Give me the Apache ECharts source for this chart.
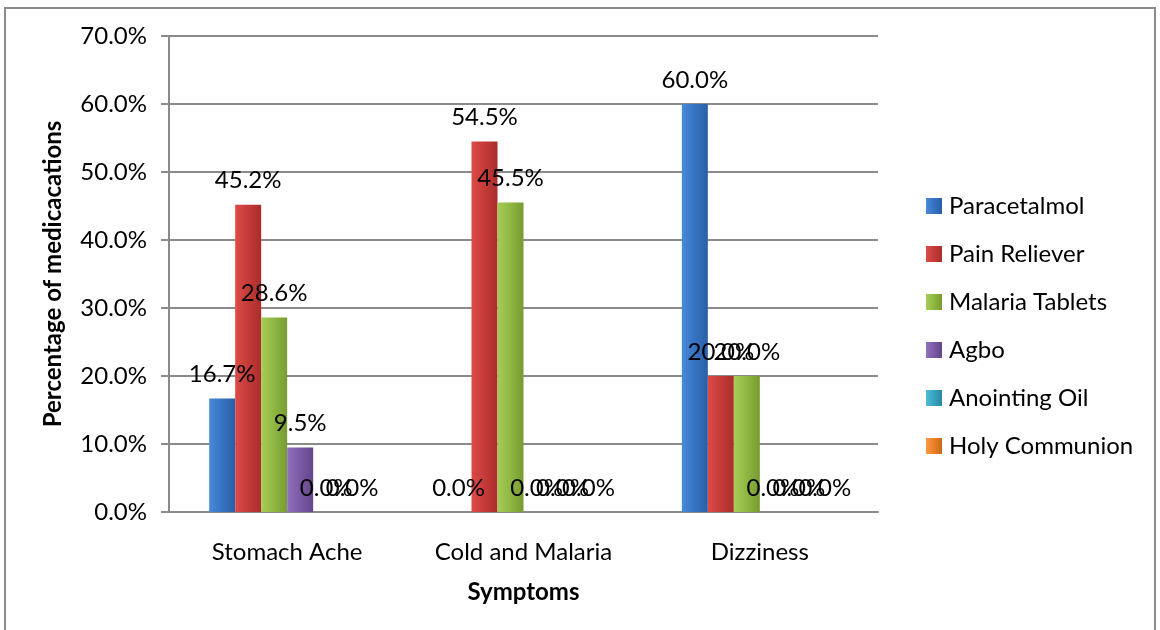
<!DOCTYPE html>
<html>
<head>
<meta charset="utf-8">
<script src="https://cdn.jsdelivr.net/npm/echarts@6/dist/echarts.min.js"></script>
<style>
html,body{margin:0;padding:0;background:#fff;}
#c{width:1160px;height:630px;}
</style>
</head>
<body>
<div id="c"></div>
<script>
var categories = ['Stomach Ache', 'Cold and Malaria', 'Dizziness'];
var seriesNames = ['Paracetalmol', 'Pain Reliever', 'Malaria Tablets', 'Agbo', 'Anointing Oil', 'Holy Communion'];
var paracetalmol = [16.7, 0.0, 60.0];
var painReliever = [45.2, 54.5, 20.0];
var malariaTablets = [28.6, 45.5, 20.0];
var agbo = [9.5, 0.0, 0.0];
var anointingOil = [0.0, 0.0, 0.0];
var holyCommunion = [0.0, 0.0, 0.0];
var yMin = 0, yMax = 70, yStep = 10;

var values = [paracetalmol, painReliever, malariaTablets, agbo, anointingOil, holyCommunion];
var palette = [
  ['#4a8ad8', '#3874c4', '#2a5fa6'],
  ['#dc4c48', '#c73c39', '#a92e2c'],
  ['#a6cc56', '#91b943', '#779b32'],
  ['#9272bc', '#7c5ca6', '#634689'],
  ['#52bcd6', '#3aa6c2', '#2a88a2'],
  ['#f79a45', '#ec8228', '#c96a17']
];
var FONT = 'Lato';
var FS = 24;

function grad(c) {
  return new echarts.graphic.LinearGradient(0, 0, 1, 0, [
    {offset: 0, color: c[0]},
    {offset: 0.45, color: c[1]},
    {offset: 1, color: c[2]}
  ]);
}

var series = seriesNames.map(function (name, i) {
  return {
    name: name,
    type: 'bar',
    data: values[i],
    barGap: '0%',
    barCategoryGap: '34%',
    itemStyle: {color: grad(palette[i])},
    label: {
      show: true,
      position: 'top',
      distance: 12,
      color: '#000',
      fontFamily: FONT,
      fontSize: FS,
      formatter: function (p) { return p.value.toFixed(1) + '%'; }
    }
  };
});

var chart = echarts.init(document.getElementById('c'), null, {renderer: 'canvas'});
chart.setOption({
  animation: false,
  backgroundColor: '#fff',
  color: palette.map(function (c) { return c[1]; }),
  graphic: [{
    type: 'rect',
    shape: {x: 5, y: 8, width: 1150, height: 640},
    style: {fill: 'none', stroke: '#8a8a8a', lineWidth: 2},
    silent: true
  }],
  grid: {left: 169, right: 282, top: 36, bottom: 118, containLabel: false},
  legend: {
    orient: 'vertical',
    left: 921,
    top: 189,
    itemWidth: 16,
    itemHeight: 16,
    itemGap: 24,
    icon: 'rect',
    textStyle: {fontFamily: FONT, fontSize: FS, color: '#000', lineHeight: 24, padding: [0, 0, 0, 2]},
    data: seriesNames
  },
  xAxis: {
    type: 'category',
    data: categories,
    name: 'Symptoms',
    nameLocation: 'middle',
    nameGap: 68,
    nameTextStyle: {fontFamily: FONT, fontSize: FS, fontWeight: 'bold', color: '#000'},
    axisLine: {lineStyle: {color: '#8a8a8a', width: 2}},
    axisTick: {show: false},
    axisLabel: {fontFamily: FONT, fontSize: FS, color: '#000', margin: 28}
  },
  yAxis: {
    type: 'value',
    min: yMin,
    max: yMax,
    interval: yStep,
    name: 'Percentage of medicacations',
    nameLocation: 'middle',
    nameGap: 104,
    nameTextStyle: {fontFamily: FONT, fontSize: FS, fontWeight: 'bold', color: '#000'},
    axisLine: {show: true, lineStyle: {color: '#8a8a8a', width: 2}},
    axisTick: {show: true, length: 8, lineStyle: {color: '#8a8a8a', width: 2}},
    splitLine: {lineStyle: {color: '#8a8a8a', width: 2}},
    axisLabel: {
      fontFamily: FONT, fontSize: FS, color: '#000', margin: 22,
      formatter: function (v) { return v.toFixed(1) + '%'; }
    }
  },
  series: series
});
</script>
</body>
</html>
